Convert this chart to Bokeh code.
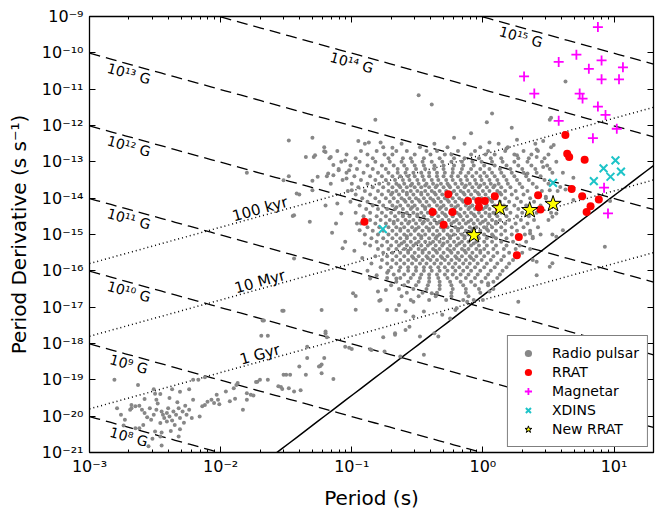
import numpy as np
from bokeh.plotting import figure
from bokeh.models import FixedTicker, CustomJSTickFormatter, LogAxis, Range1d
from bokeh.core.properties import value
from bokeh.embed import file_html
from bokeh.resources import INLINE

# ---------------- data (log10 values in units of 0.01 dex) ----------------
# Radio pulsars, dense part read row by row: log10(Pdot)*100 for each row, log10(P)*100 values in it
psr_row_logpdot = [-1250, -1260, -1270, -1280, -1290, -1300, -1310, -1320, -1330, -1340,
                   -1350, -1360, -1370, -1380, -1390, -1400, -1410, -1420, -1430, -1440,
                   -1450, -1460, -1470, -1480, -1490, -1500, -1510, -1520, -1530, -1540,
                   -1550, -1560, -1570, -1580, -1590, -1600, -1610, -1620, -1630, -1640,
                   -1650, -1660, -1670, -1680,
                   -1365, -1385, -1405, -1425, -1445, -1465, -1485, -1505, -1525, -1545, -1565]
psr_row_logp = [
    [-90, -62, -37, -14, 12, 40],
    [-121, -76, -48, -27, -2, 19, 52],
    [-111, -93, -81, -66, -58, -43, -35, -19, -6, 4, 17, 31, 42],
    [-104, -88, -75, -69, -52, -40, -29, -24, -9, 2, 9, 24, 37, 50],
    [-117, -97, -84, -72, -61, -55, -45, -33, -22, -14, -3, 6, 14, 27, 35, 47],
    [-108, -94, -82, -71, -62, -54, -46, -39, -31, -24, -16, -8, -1, 7, 15, 24, 34, 45, 56],
    [-101, -88, -77, -68, -60, -52, -45, -37, -30, -22, -15, -7, 1, 9, 18, 27, 37, 49],
    [-110, -96, -84, -74, -65, -58, -51, -44, -37, -30, -23, -16, -9, -2, 5, 13, 21, 30, 40, 51],
    [-104, -91, -80, -72, -65, -59, -53, -47, -41, -35, -29, -23, -17, -11, -5, 1, 7, 14, 22, 31, 41, 53],
    [-98, -86, -77, -69, -63, -57, -52, -46, -41, -35, -30, -24, -19, -13, -8, -2, 3, 9, 16, 24, 33, 44],
    [-107, -93, -82, -74, -67, -61, -56, -50, -45, -39, -34, -28, -23, -17, -12, -6, -1, 5, 11, 18, 26, 35, 47],
    [-100, -88, -79, -72, -66, -60, -54, -49, -43, -38, -32, -27, -21, -16, -10, -5, 1, 6, 12, 19, 28, 38, 50],
    [-95, -84, -76, -69, -63, -58, -52, -47, -41, -36, -30, -25, -19, -14, -8, -3, 3, 8, 14, 21, 30, 41],
    [-103, -90, -80, -72, -66, -61, -55, -50, -44, -39, -33, -28, -22, -17, -11, -6, 0, 5, 11, 17, 25, 34, 45, 57],
    [-97, -86, -77, -70, -64, -58, -53, -47, -42, -36, -31, -25, -20, -14, -9, -3, 2, 8, 14, 22, 31, 42],
    [-92, -82, -74, -68, -62, -56, -51, -45, -40, -34, -29, -23, -18, -12, -7, -1, 4, 10, 17, 26, 36, 48],
    [-101, -88, -79, -71, -65, -59, -54, -48, -43, -37, -32, -26, -21, -15, -10, -4, 1, 7, 13, 20, 29, 39],
    [-94, -84, -76, -69, -63, -57, -52, -46, -41, -35, -30, -24, -19, -13, -8, -2, 3, 9, 16, 24, 33, 44, 55],
    [-89, -80, -73, -67, -61, -55, -50, -44, -39, -33, -28, -22, -17, -11, -6, 0, 5, 11, 18, 27, 37],
    [-97, -86, -77, -70, -64, -58, -53, -47, -42, -36, -31, -25, -20, -14, -9, -3, 2, 8, 14, 21, 30, 41, 52],
    [-91, -81, -74, -67, -61, -56, -50, -45, -39, -34, -28, -23, -17, -12, -6, -1, 5, 11, 18, 26, 35],
    [-86, -78, -71, -65, -59, -53, -48, -42, -37, -31, -26, -20, -15, -9, -4, 2, 7, 13, 20, 29, 39, 50],
    [-93, -82, -74, -68, -62, -57, -51, -46, -40, -35, -29, -24, -18, -13, -7, -2, 4, 10, 17, 25, 34],
    [-88, -79, -72, -66, -60, -54, -49, -43, -38, -32, -27, -21, -16, -10, -5, 1, 7, 14, 22, 31, 42],
    [-84, -76, -69, -63, -57, -52, -46, -41, -35, -30, -24, -19, -13, -8, -2, 4, 10, 17, 26, 36],
    [-90, -80, -72, -66, -60, -55, -49, -44, -38, -33, -27, -22, -16, -11, -5, 1, 7, 14, 22, 32, 44],
    [-85, -76, -69, -63, -58, -52, -47, -41, -36, -30, -25, -19, -14, -8, -3, 3, 10, 18, 27, 38],
    [-81, -73, -66, -60, -55, -49, -44, -38, -33, -27, -22, -16, -11, -5, 1, 7, 14, 23, 33],
    [-86, -77, -70, -64, -58, -53, -47, -42, -36, -31, -25, -20, -14, -9, -3, 3, 10, 18, 28],
    [-80, -72, -66, -60, -55, -49, -44, -38, -33, -27, -22, -16, -11, -5, 1, 8, 16, 25, 36],
    [-76, -69, -63, -57, -52, -46, -41, -35, -30, -24, -19, -13, -8, -2, 4, 11, 20, 30],
    [-82, -73, -66, -60, -54, -49, -43, -38, -32, -27, -21, -16, -10, -5, 1, 8, 16, 26],
    [-77, -69, -63, -57, -51, -46, -40, -35, -29, -24, -18, -13, -7, -1, 6, 14, 23],
    [-73, -66, -60, -54, -48, -43, -37, -32, -26, -21, -15, -10, -4, 3, 11, 20],
    [-78, -70, -63, -57, -51, -45, -40, -34, -29, -23, -18, -12, -6, 1, 9, 18],
    [-72, -64, -57, -51, -45, -39, -33, -27, -21, -15, -9, -2, 6, 15],
    [-68, -60, -53, -47, -41, -35, -29, -23, -17, -11, -4, 4, 13],
    [-73, -63, -55, -48, -41, -34, -27, -20, -13, -6, 2, 11],
    [-66, -57, -49, -41, -33, -25, -17, -9, -1, 8],
    [-70, -60, -51, -42, -33, -24, -15, -6, 4],
    [-64, -53, -43, -33, -23, -13, -3, 8],
    [-58, -46, -35, -24, -13, -2],
    [-62, -49, -36, -24, -11],
    [-55, -41, -28, -15, 0],
    [-64, -55, -44, -35, -26, -13, -2, 9],
    [-69, -58, -47, -37, -24, -15, -4, 13],
    [-60, -49, -38, -27, -16, -5, 6],
    [-66, -54, -44, -32, -21, -10, 2, 14],
    [-61, -50, -39, -29, -18, -7, 5],
    [-68, -56, -45, -33, -22, -11, 0, 10],
    [-63, -51, -41, -30, -19, -8, 3],
    [-58, -47, -35, -25, -14, -4, 8],
    [-62, -51, -40, -30, -18, -7],
    [-57, -46, -36, -25, -14, -2],
    [-53, -42, -31, -20, -9],
]
# Radio pulsars, sparse part: (log10 P, log10 Pdot) * 100
psr_sparse = [
    (-82, -1184), (-148, -1241), (-130, -1234), (-95, -1243), (-87, -1247), (-78, -1247), (-69, -1261),
    (-49, -1117), (-39, -1142), (7, -1167), (3, -1191), (22, -1206), (63, -1079), (-22, -1234), (51, -1184),
    (-9, -1221), (5, -1247), (26, -1239), (54, -1254), (52, -1179), (46, -1243), (41, -1266), (26, -1282),
    (18, -1263), (34, -1332), (46, -1314), (51, -1378), (53, -1451), (56, -1506),
    (-135, -1287), (-129, -1287), (-120, -1273), (-116, -1287), (-130, -1352), (-118, -1332), (-114, -1337),
    (-116, -1360), (-148, -1340), (-152, -1351), (-180, -1330), (-144, -1447), (-132, -1465), (-140, -1390),
    (-130, -1378), (-111, -1415), (-128, -1282), (-121, -1271), (-114, -1309), (-110, -1323), (-119, -1340),
    (-126, -1341), (-105, -1296), (-102, -1323), (-104, -1346), (-100, -1378), (-142, -1387), (-145, -1449),
    (-144, -1566), (-120, -1420), (-108, -1442), (-112, -1470), (-115, -1495), (-105, -1520), (-107, -1538),
    (-98, -1545), (-94, -1488), (-96, -1470), (-90, -1525), (-92, -1565), (-85, -1580), (-88, -1600),
    (41, -1287), (61, -1330), (69, -1344), (63, -1376), (59, -1369), (69, -1405), (48, -1396), (56, -1442),
    (61, -1488), (93, -1534), (36, -1497), (97, -1408), (53, -1500), (38, -1506), (41, -1575), (53, -1579),
    (51, -1589), (38, -1570), (41, -1612), (27, -1685), (5, -1657), (4, -1634),
    (-99, -1662), (-97, -1669), (-80, -1657), (-74, -1653), (-79, -1682), (-66, -1621), (-86, -1621),
    (-81, -1612), (-73, -1605), (-152, -1710), (-123, -1708), (-97, -1707), (-73, -1708), (-66, -1708),
    (-78, -1680), (-64, -1694), (-59, -1712), (-53, -1685), (-45, -1712), (-56, -1754), (-37, -1772),
    (-34, -1781), (-45, -1831), (-63, -1836), (-39, -1662), (-25, -1731), (-21, -1708), (-12, -1685),
    (-7, -1680), (-31, -1721), (-20, -1703), (-53, -1726), (-59, -1763), (-48, -1781), (-67, -1776),
    (-164, -1779), (-120, -1772), (-119, -1783), (-102, -1812), (-100, -1815), (-86, -1816), (-75, -1822),
    (-76, -1783), (-67, -1772), (-105, -1809), (-85, -1818), (-167, -1737), (-153, -1710), (-120, -1767),
    (-134, -1809),
    (-121, -1840), (-124, -1862), (-123, -1858), (-140, -1863), (-152, -1886), (-150, -1886), (-135, -1886),
    (-114, -1898), (-156, -1918), (-154, -1920), (-153, -1925), (-139, -1929), (-177, -1941), (-175, -1943),
    (-188, -1914), (-164, -1900), (-144, -1932), (-148, -1923), (-172, -1905), (-187, -1909), (-190, -1923),
    (-125, -1863), (-123, -1882), (-147, -1886), (-134, -1840),
    (-281, -1900), (-263, -1914), (-251, -1926), (-250, -1938), (-246, -1939), (-237, -1926), (-231, -1933),
    (-224, -1926), (-221, -1900), (-217, -1900), (-212, -1893), (-203, -1941), (-196, -1932), (-189, -1952),
    (-180, -1937), (-180, -1955), (-173, -1906), (-170, -1900), (-169, -1779), (-168, -1737), (-183, -1982),
    (-201, -1967), (-193, -1959),
    (-279, -1978), (-276, -1996), (-273, -2010), (-269, -1982), (-268, -1978), (-265, -1973), (-262, -1971),
    (-260, -1982), (-258, -1991), (-254, -1978), (-251, -1996), (-249, -1982), (-253, -2010), (-265, -2033),
    (-262, -2033), (-259, -2024), (-274, -2026), (-245, -1987), (-244, -1996), (-243, -2005), (-241, -1991),
    (-239, -2001), (-237, -2012), (-236, -1987), (-234, -1996), (-232, -1978), (-231, -2005), (-229, -1987),
    (-227, -1971), (-226, -1996), (-224, -1982), (-222, -2005), (-241, -2015), (-246, -2019), (-250, -2042),
    (-245, -2045), (-246, -2056), (-235, -2024), (-231, -2036), (-232, -2056), (-255, -2083), (-245, -2081),
    (-216, -2001), (-212, -1969), (-210, -1960), (-207, -1955), (-205, -1964), (-202, -1955), (-221, -1955),
    (-239, -1950), (-249, -1955), (-258, -1953), (-268, -1969), (-214, -1973), (-256, -2003), (-248, -1965),
    (-240, -1978), (-233, -1962), (-228, -2018), (-252, -2062), (-238, -2041),
]
rrat_logp = [0.629, 0.643, 0.658, 0.776, 0.677, 0.757, 0.884, 0.821, 0.791, 0.439, 0.421, 0.091,
             0.015, -0.034, -0.030, 0.122, -0.114, -0.264, -0.384, -0.232, -0.299, -0.903, 0.274, 0.259]
rrat_logpdot = [-12.26, -12.78, -12.87, -12.94, -13.75, -13.95, -14.04, -14.22, -14.38, -14.31, -13.92, -13.95,
                -14.08, -14.08, -14.25, -14.27, -14.08, -13.89, -14.38, -14.38, -14.73, -14.65, -15.07, -15.57]
mag_logp = [0.877, 0.578, 0.713, 0.905, 0.808, 1.068, 0.905, 1.038, 0.392, 0.738, 0.760, 0.877,
            0.935, 0.578, 1.021, 0.839, 0.924, 0.954, 0.314]
mag_logpdot = [-9.29, -10.25, -10.05, -10.21, -10.44, -10.40, -10.73, -10.73, -11.12, -11.12, -11.26, -11.48,
               -11.71, -11.87, -12.09, -12.35, -13.71, -14.42, -10.65]
xdins_logp = [0.535, 0.846, 0.920, 0.973, 1.011, 1.053, -0.763]
xdins_logpdot = [-13.58, -13.53, -13.18, -13.41, -12.96, -13.27, -14.85]
new_rrat_logp = [0.129, -0.068, 0.357, 0.535]
new_rrat_logpdot = [-14.28, -15.02, -14.33, -14.16]

field_exps = [8, 9, 10, 11, 12, 13, 14, 15]          # log10 B (G)
age_years = [1e5, 1e7, 1e9]
age_names = ["100 kyr", "10 Myr", "1 Gyr"]
death_slope, death_icpt = 2.75, -16.68                # log Pdot = slope*log P + icpt

x_ticks = [1e-3, 1e-2, 1e-1, 1e0, 1e1]
x_minor = [m * 10.0**e for e in range(-3, 2) for m in range(2, 10)]
y_ticks = [10.0**e for e in range(-21, -8)]

# ---------------- figure ----------------
XMIN, XMAX, YMIN, YMAX = 1e-3, 20.0, 1e-21, 1e-9
W, H, ML, MR, MT, MB = 668, 512, 89, 15, 16, 59
p = figure(width=W, height=H, x_axis_type="log", y_axis_type="log",
           x_range=Range1d(XMIN, XMAX), y_range=Range1d(YMIN, YMAX),
           output_backend="svg", toolbar_location=None,
           min_border_left=ML, min_border_right=MR, min_border_top=MT, min_border_bottom=MB)
p.xgrid.grid_line_color = None
p.ygrid.grid_line_color = None
p.outline_line_color = "black"
p.outline_line_width = 1.3
p.background_fill_color = "white"
p.border_fill_color = "white"

sup_code = r"""
const s = {'-':'\u207b','0':'\u2070','1':'\u00b9','2':'\u00b2','3':'\u00b3','4':'\u2074',
           '5':'\u2075','6':'\u2076','7':'\u2077','8':'\u2078','9':'\u2079'};
const e = Math.round(Math.log10(tick));
return '10' + String(e).split('').map(c => s[c]).join('');
"""
FONT = "DejaVu Sans"

def style_axis(ax, ticks, minor, labels):
    ax.ticker = FixedTicker(ticks=ticks, minor_ticks=minor)
    ax.major_tick_in = 6
    ax.major_tick_out = 0
    ax.minor_tick_in = 3
    ax.minor_tick_out = 0
    ax.axis_line_color = "black"
    ax.major_tick_line_color = "black"
    ax.minor_tick_line_color = "black" if minor else None
    if labels:
        ax.formatter = CustomJSTickFormatter(code=sup_code)
        ax.major_label_text_font = FONT
        ax.major_label_text_font_size = "16px"
        ax.major_label_text_color = "black"
    else:
        ax.formatter = CustomJSTickFormatter(code="return '';")
        ax.major_label_text_font_size = "0px"
        ax.major_label_standoff = 0

style_axis(p.xaxis[0], x_ticks, x_minor, True)
style_axis(p.yaxis[0], y_ticks, [], True)
p.xaxis[0].major_label_standoff = 4
p.yaxis[0].major_label_standoff = 6
p.xaxis.axis_label = "Period (s)"
p.yaxis.axis_label = "Period Derivative (s s\u207b\u00b9)"
for ax in (p.xaxis[0], p.yaxis[0]):
    ax.axis_label_text_font = FONT
    ax.axis_label_text_font_size = "20px"
    ax.axis_label_text_font_style = "normal"
    ax.axis_label_text_color = "black"
p.xaxis[0].axis_label_standoff = 7
p.yaxis[0].axis_label_standoff = 8

top_ax = LogAxis()
style_axis(top_ax, x_ticks, x_minor, False)
p.add_layout(top_ax, "above")
right_ax = LogAxis()
style_axis(right_ax, y_ticks, [], False)
p.add_layout(right_ax, "right")

# ---------------- reference lines ----------------
P = np.logspace(np.log10(XMIN), np.log10(XMAX), 80)
for b in field_exps:
    p.line(P, (10.0**b / 3.2e19)**2 / P, line_color="black", line_dash="11 6", line_width=1.3)
YR = 3.156e7
for t in age_years:
    p.line(P, P / (2 * t * YR), line_color="black", line_dash="1 3", line_width=1.5)
p.line(P, 10.0**(death_slope * np.log10(P) + death_icpt), line_color="black", line_width=1.5)

# ---------------- points ----------------
rows_x, rows_y = [], []
for ly, xs in zip(psr_row_logpdot, psr_row_logp):
    for lx in xs:
        rows_x.append(lx / 100.0)
        rows_y.append(ly / 100.0)
for lx, ly in psr_sparse:
    rows_x.append(lx / 100.0)
    rows_y.append(ly / 100.0)
psr_P = 10.0**np.array(rows_x)
psr_Pdot = 10.0**np.array(rows_y)

p.scatter(psr_P, psr_Pdot, marker="circle", size=4, fill_color="#878787", line_color=None,
          legend_label="Radio pulsar")
p.scatter(10.0**np.array(rrat_logp), 10.0**np.array(rrat_logpdot), marker="circle", size=8,
          fill_color="#ff0000", line_color=None, legend_label="RRAT")
p.scatter(10.0**np.array(mag_logp), 10.0**np.array(mag_logpdot), marker="cross", size=10,
          line_color="#ff00ff", line_width=1.8, legend_label="Magnetar")
p.scatter(10.0**np.array(xdins_logp), 10.0**np.array(xdins_logpdot), marker="x", size=11,
          line_color="#1ec4c8", line_width=2, legend_label="XDINS")
p.scatter(10.0**np.array(new_rrat_logp), 10.0**np.array(new_rrat_logpdot), marker="star", size=17,
          fill_color="#ffff00", line_color="black", line_width=1, legend_label="New RRAT")

# ---------------- line labels ----------------
fw = W - ML - MR
fh = H - MT - MB
px_x = fw / (np.log10(XMAX) - np.log10(XMIN))
px_y = fh / (np.log10(YMAX) - np.log10(YMIN))
ang = float(np.arctan(px_y / px_x))

sup_map = str.maketrans("0123456789-", "\u2070\u00b9\u00b2\u00b3\u2074\u2075\u2076\u2077\u2078\u2079\u207b")
b_label_logp = [-2.70, -2.70, -2.70, -2.70, -2.70, -2.70, -1.00, 0.29]
bx, by, bt = [], [], []
for b, lp in zip(field_exps, b_label_logp):
    line_lpd = 2 * (b - np.log10(3.2e19)) - lp
    bx.append(10.0**lp)
    by.append(10.0**(line_lpd - 0.26))
    bt.append("10" + str(b).translate(sup_map) + " G")
p.text(bx, by, text=bt, angle=-ang, text_align="center", text_baseline="middle",
       text_font=value(FONT), text_font_size="14px", text_color="black")

ax_, ay_ = [], []
for t in age_years:
    lp = -1.70
    ax_.append(10.0**lp)
    ay_.append(10.0**(lp - np.log10(2 * t * YR) + 0.20))
p.text(ax_, ay_, text=age_names, angle=ang, text_align="center", text_baseline="middle",
       text_font=value(FONT), text_font_size="15px", text_color="black")

# ---------------- legend ----------------
lg = p.legend[0]
lg.location = "bottom_right"
lg.margin = 5
lg.padding = 8
lg.spacing = 1
lg.glyph_width = 24
lg.glyph_height = 18
lg.label_height = 18
lg.label_standoff = 12
lg.label_text_font = FONT
lg.label_text_font_size = "14px"
lg.label_text_color = "black"
lg.border_line_color = "black"
lg.border_line_width = 1.5
lg.background_fill_color = "white"
lg.background_fill_alpha = 1.0

open("out.html", "w").write(file_html(p, INLINE))
